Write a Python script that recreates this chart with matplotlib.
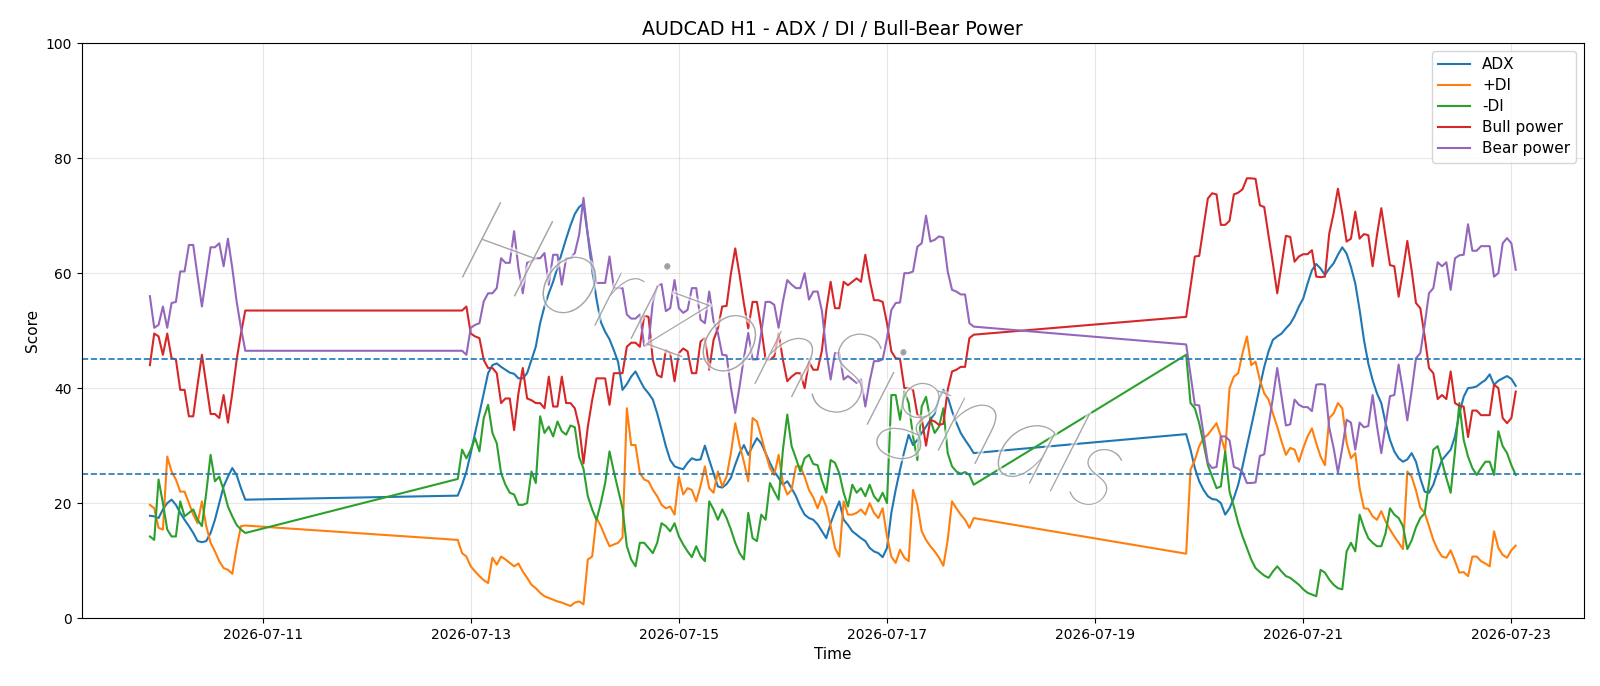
import numpy as np
import pandas as pd
import matplotlib
matplotlib.use("Agg")
import matplotlib.pyplot as plt
import matplotlib.dates as mdates
import matplotlib.patheffects as pe

# hourly bars, three trading blocks (weekend gaps are bridged by the line)
t_w1 = pd.date_range("2026-07-09 22:00", "2026-07-10 20:00", freq="h")
t_w2 = pd.date_range("2026-07-12 21:00", "2026-07-17 20:00", freq="h")
t_w3 = pd.date_range("2026-07-19 21:00", "2026-07-23 01:00", freq="h")

# ---- ADX
adx_w1 = [17.8, 17.7, 17.4, 18.9, 20.0, 20.6, 19.7, 18.3, 17.1, 16.0, 14.8, 13.4,
          13.2, 13.4, 14.8, 17.1, 20.0, 22.9, 24.6, 26.1, 24.9, 22.6, 20.6]
adx_w2 = [21.3, 23.2, 25.5, 28.7, 32.2, 35.6, 39.1, 42.6, 44.0, 44.3,
          43.7, 43.2, 42.7, 42.5, 41.7, 41.7, 42.6, 44.9, 47.2, 51.3,
          54.2, 56.5, 58.5, 61.0, 63.5, 66.0, 68.3, 70.3, 71.5, 72.1,
          66.5, 60.5, 55.5, 51.5, 49.8, 48.5, 46.6, 44.5, 39.7, 40.7,
          42.0, 42.9, 41.4, 40.0, 39.1, 38.0, 35.6, 32.8, 29.9, 27.5,
          26.4, 26.1, 25.9, 27.0, 27.8, 27.5, 27.6, 30.0, 27.5, 25.2,
          22.9, 22.7, 23.3, 24.4, 26.7, 28.7, 30.1, 28.4, 29.9, 31.3,
          30.4, 28.7, 27.0, 25.5, 24.4, 23.2, 23.8, 22.6, 21.2, 19.4,
          18.0, 17.4, 17.1, 16.3, 15.1, 13.9, 16.5, 18.5, 20.3, 17.1,
          16.2, 15.1, 14.5, 13.9, 13.4, 12.2, 11.6, 11.3, 10.6, 12.2,
          18.3, 22.3, 25.8, 29.0, 31.9, 30.1, 31.0, 32.2, 33.3, 34.5,
          35.6, 38.2, 39.7, 38.5, 36.0, 34.0, 32.2, 31.0, 29.9, 28.7]
adx_w3 = [32.0, 29.3, 26.1, 23.8, 22.3, 21.2, 20.7, 20.6, 20.0, 18.0,
          19.1, 20.9, 23.2, 26.4, 29.9, 33.3, 36.8, 40.3, 43.7, 46.4,
          48.4, 49.0, 49.5, 50.4, 51.2, 52.5, 54.2, 55.6, 58.2, 60.5,
          61.6, 60.8, 59.7, 60.8, 61.7, 63.2, 64.5, 63.4, 61.1, 58.2,
          53.6, 48.4, 44.3, 41.4, 39.1, 37.4, 33.9, 31.0, 29.0, 27.8,
          27.2, 27.6, 28.7, 27.2, 24.3, 22.0, 21.8, 23.2, 25.5, 27.5,
          28.4, 29.3, 31.6, 35.6, 38.5, 40.0, 40.1, 40.3, 40.9, 41.4,
          42.4, 40.6, 41.3, 41.7, 42.1, 41.6, 40.4]

# ---- +DI
pdi_w1 = [19.7, 19.1, 15.7, 15.4, 28.1, 25.5, 24.1, 22.0, 22.0, 20.0, 18.0, 16.5,
          20.3, 16.0, 13.1, 11.6, 9.9, 8.7, 8.4, 7.7, 12.2, 16.0, 16.1]
pdi_w2 = [13.6, 11.3, 10.7, 9.0, 8.1, 7.3, 6.6, 6.1, 10.5, 9.3,
          10.7, 10.2, 9.6, 9.0, 9.5, 8.1, 7.0, 5.8, 5.2, 4.4,
          3.8, 3.5, 3.2, 2.9, 2.7, 2.4, 2.1, 2.7, 2.9, 2.4,
          10.2, 10.7, 17.4, 16.0, 14.2, 12.5, 12.8, 13.1, 14.0, 36.5,
          30.1, 30.1, 25.2, 24.1, 23.8, 22.3, 21.2, 19.7, 19.1, 19.4,
          18.0, 24.6, 21.5, 22.6, 22.3, 20.3, 23.0, 26.4, 22.6, 21.8,
          25.5, 22.9, 24.6, 28.7, 33.9, 30.1, 27.2, 23.8, 34.8, 34.2,
          31.6, 28.7, 26.1, 24.9, 28.4, 23.5, 21.5, 22.3, 26.4, 26.4,
          24.6, 22.3, 21.0, 19.1, 21.2, 19.4, 16.0, 12.2, 10.7, 20.3,
          18.0, 18.0, 18.3, 18.9, 18.0, 20.0, 18.3, 17.4, 19.1, 14.2,
          10.7, 9.6, 11.9, 10.5, 9.9, 22.3, 19.7, 15.1, 13.6, 12.5,
          11.6, 10.5, 9.1, 13.6, 20.3, 19.1, 18.0, 17.1, 15.7, 17.4]
pdi_w3 = [11.2, 25.8, 27.5, 29.9, 31.3, 31.9, 32.9, 33.9, 31.6, 29.0,
          40.0, 42.0, 42.6, 46.1, 49.0, 44.0, 44.6, 41.4, 39.1, 38.0,
          35.6, 33.3, 30.7, 28.4, 29.6, 29.3, 27.2, 29.6, 31.6, 33.0,
          30.4, 28.1, 26.6, 34.8, 35.6, 37.4, 36.5, 30.5, 27.8, 28.7,
          22.6, 19.1, 19.0, 17.7, 17.1, 18.6, 16.8, 15.4, 14.2, 13.1,
          12.0, 25.5, 24.6, 22.2, 19.2, 18.3, 16.0, 13.6, 11.9, 10.7,
          10.5, 11.8, 9.9, 7.9, 8.0, 7.3, 10.7, 10.7, 9.9, 9.5,
          9.0, 15.1, 12.2, 11.0, 10.5, 11.8, 12.6]

# ---- -DI
mdi_w1 = [14.2, 13.6, 24.1, 20.0, 15.4, 14.2, 14.2, 20.3, 17.7, 18.3, 18.9, 17.1,
          16.0, 21.8, 28.4, 23.8, 24.6, 22.3, 19.4, 17.7, 16.2, 15.4, 14.8]
mdi_w2 = [24.2, 29.3, 27.8, 29.3, 31.3, 29.0, 34.8, 37.1, 32.2, 30.4,
          25.2, 23.2, 21.8, 21.5, 19.7, 19.7, 20.0, 25.5, 23.5, 35.1,
          32.2, 33.3, 31.6, 34.2, 32.5, 31.9, 33.5, 33.2, 28.0, 26.0,
          21.2, 18.9, 17.1, 20.0, 23.5, 29.0, 25.5, 22.3, 19.1, 12.5,
          10.2, 9.0, 13.1, 13.1, 12.2, 11.3, 13.1, 16.5, 16.0, 15.1,
          16.5, 14.2, 12.8, 11.6, 10.6, 12.5, 10.8, 9.9, 20.3, 18.9,
          17.1, 18.9, 17.4, 15.4, 13.1, 11.3, 10.2, 18.3, 13.9, 13.4,
          18.0, 17.1, 23.5, 22.0, 20.6, 29.3, 35.4, 29.9, 27.8, 25.5,
          27.8, 28.4, 26.8, 26.6, 23.9, 21.8, 27.5, 27.0, 25.2, 21.8,
          19.4, 23.2, 21.8, 22.6, 21.2, 23.2, 21.2, 20.3, 21.8, 20.0,
          38.8, 38.8, 34.5, 39.4, 37.4, 31.6, 27.5, 36.8, 38.5, 34.5,
          32.2, 33.3, 36.5, 28.7, 26.4, 25.5, 25.1, 25.4, 24.9, 23.2]
mdi_w3 = [45.8, 37.4, 36.5, 33.9, 30.4, 26.6, 24.6, 22.6, 22.9, 29.0,
          22.0, 19.4, 16.5, 14.2, 12.2, 10.2, 8.7, 8.0, 7.4, 7.0,
          8.1, 9.0, 8.1, 7.3, 7.0, 6.4, 5.8, 5.0, 4.4, 4.1,
          3.8, 8.4, 7.9, 6.7, 5.8, 5.2, 5.0, 11.6, 13.1, 11.6,
          18.0, 15.7, 13.9, 13.1, 12.5, 12.5, 14.8, 19.1, 18.0, 17.4,
          16.0, 12.0, 13.5, 15.8, 17.4, 18.2, 23.5, 29.3, 29.9, 27.2,
          24.4, 21.8, 29.0, 37.4, 31.0, 28.1, 26.1, 24.9, 26.1, 27.2,
          27.2, 24.9, 32.5, 29.9, 28.7, 26.6, 24.9]

# ---- Bull power
bull_w1 = [44.0, 49.5, 49.0, 45.8, 49.5, 45.2, 45.0, 39.7, 39.7, 35.1, 35.1, 40.6,
           45.8, 40.6, 35.5, 35.5, 34.8, 38.8, 34.0, 39.1, 44.9, 49.5, 53.5]
bull_w2 = [53.5, 53.5, 54.2, 49.5, 49.0, 48.7, 44.9, 43.5, 43.5, 42.6,
           37.4, 38.2, 38.2, 32.7, 39.1, 43.5, 38.2, 37.9, 37.4, 37.4,
           36.5, 42.0, 36.8, 36.8, 42.0, 37.4, 37.4, 36.5, 33.3, 26.9,
           33.3, 37.9, 41.7, 41.7, 41.7, 37.1, 42.6, 42.6, 42.6, 47.2,
           47.9, 47.9, 47.2, 52.6, 52.4, 44.9, 42.3, 41.9, 46.6, 46.1,
           41.2, 46.1, 46.9, 46.4, 42.6, 42.6, 48.1, 48.7, 43.2, 48.4,
           50.4, 54.2, 54.3, 59.9, 64.3, 59.7, 54.7, 50.4, 55.0, 55.0,
           50.4, 45.0, 45.0, 45.5, 49.5, 44.9, 41.2, 42.0, 42.6, 42.6,
           40.0, 44.6, 43.2, 43.2, 46.6, 53.6, 58.5, 53.9, 53.9, 58.5,
           57.9, 58.5, 59.1, 58.5, 63.2, 58.8, 55.3, 55.3, 55.0, 51.3,
           46.4, 45.2, 45.1, 40.0, 40.0, 39.7, 35.4, 34.8, 30.0, 34.5,
           34.2, 33.6, 33.8, 39.7, 42.9, 43.2, 43.7, 43.7, 48.7, 49.3]
bull_w3 = [52.4, 57.7, 62.9, 63.0, 68.0, 73.0, 73.9, 73.7, 68.4, 68.4,
           69.1, 73.7, 74.0, 74.6, 76.5, 76.5, 76.4, 71.8, 71.5, 66.5,
           61.7, 56.5, 61.5, 66.5, 66.3, 62.0, 62.9, 63.3, 63.3, 64.0,
           59.4, 59.3, 59.4, 66.9, 70.4, 74.7, 70.4, 65.5, 66.0, 70.7,
           66.0, 66.8, 66.6, 61.2, 66.6, 71.3, 66.3, 61.4, 61.2, 55.9,
           60.5, 65.6, 60.5, 54.8, 53.9, 49.0, 43.5, 42.6, 38.1, 38.8,
           38.1, 42.9, 37.4, 36.9, 36.8, 31.5, 36.1, 36.1, 35.3, 35.3,
           35.3, 40.6, 40.0, 34.8, 33.9, 34.8, 39.4]

# ---- Bear power
bear_w1 = [56.0, 50.5, 51.0, 54.2, 50.5, 54.8, 55.0, 60.3, 60.3, 64.9, 64.9, 59.4,
           54.2, 59.4, 64.5, 64.5, 65.2, 61.2, 66.0, 60.9, 55.1, 50.5, 46.5]
bear_w2 = [46.5, 46.5, 45.8, 50.5, 51.0, 51.3, 55.1, 56.5, 56.5, 57.4,
           62.6, 61.8, 61.8, 67.3, 60.9, 56.5, 61.8, 62.1, 62.6, 62.6,
           63.5, 58.0, 63.2, 63.2, 58.0, 62.6, 62.6, 63.5, 66.7, 73.1,
           66.7, 62.1, 58.3, 58.3, 58.3, 62.9, 57.4, 57.4, 57.4, 52.8,
           52.1, 52.1, 52.8, 47.4, 47.6, 55.1, 57.7, 58.1, 53.4, 53.9,
           58.8, 53.9, 53.1, 53.6, 57.4, 57.4, 51.9, 51.3, 56.8, 51.6,
           49.6, 45.8, 45.7, 40.1, 35.7, 40.3, 45.3, 49.6, 45.0, 45.0,
           49.6, 55.0, 55.0, 54.5, 50.5, 55.1, 58.8, 58.0, 57.4, 57.4,
           60.0, 55.4, 56.8, 56.8, 53.4, 46.4, 41.5, 46.1, 46.1, 41.5,
           42.1, 41.5, 40.9, 41.5, 36.8, 41.2, 44.7, 44.7, 45.0, 48.7,
           53.6, 54.8, 54.9, 60.0, 60.0, 60.3, 64.6, 65.2, 70.0, 65.5,
           65.8, 66.4, 66.2, 60.3, 57.1, 56.8, 56.3, 56.3, 51.3, 50.7]
bear_w3 = [47.6, 42.3, 37.1, 37.0, 32.0, 27.0, 26.1, 26.3, 31.6, 31.6,
           30.9, 26.3, 26.0, 25.4, 23.5, 23.5, 23.6, 28.2, 28.5, 33.5,
           38.3, 43.5, 38.5, 33.5, 33.7, 38.0, 37.1, 36.7, 36.7, 36.0,
           40.6, 40.7, 40.6, 33.1, 29.6, 25.3, 29.6, 34.5, 34.0, 29.3,
           34.0, 33.2, 33.4, 38.8, 33.4, 28.7, 33.7, 38.6, 38.8, 44.1,
           39.5, 34.4, 39.5, 45.2, 46.1, 51.0, 56.5, 57.4, 61.9, 61.2,
           61.9, 57.1, 62.6, 63.1, 63.2, 68.5, 63.9, 63.9, 64.7, 64.7,
           64.7, 59.4, 60.0, 65.2, 66.1, 65.2, 60.6]

times = t_w1.append(t_w2).append(t_w3)
series = [
    ("ADX", adx_w1 + adx_w2 + adx_w3),
    ("+DI", pdi_w1 + pdi_w2 + pdi_w3),
    ("-DI", mdi_w1 + mdi_w2 + mdi_w3),
    ("Bull power", bull_w1 + bull_w2 + bull_w3),
    ("Bear power", bear_w1 + bear_w2 + bear_w3),
]

fig, ax = plt.subplots(figsize=(16, 6.86), dpi=100)
fig.subplots_adjust(left=0.051, right=0.99, top=0.937, bottom=0.099)

for name, vals in series:
    ax.plot(times, vals, label=name, linewidth=1.5)

ax.axhline(45, color="C0", linestyle="--", linewidth=1.2)
ax.axhline(25, color="C0", linestyle="--", linewidth=1.2)

ax.set_ylim(0, 100)
ax.set_title("AUDCAD H1 - ADX / DI / Bull-Bear Power", fontsize=13.7)
ax.set_xlabel("Time", fontsize=11)
ax.set_ylabel("Score", fontsize=11)
ax.grid(True, alpha=0.3)
ax.legend(loc="upper right", fontsize=11, labelspacing=0.4, handlelength=2.1)
ax.xaxis.set_major_locator(mdates.DayLocator(bymonthday=range(1, 32, 2)))
ax.xaxis.set_major_formatter(mdates.DateFormatter("%Y-%m-%d"))

# watermark
fig.text(0.495, 0.47, "HorizonSignals", fontsize=86, rotation=-20,
         ha="center", va="center", color="#7f7f7f", alpha=0.6,
         family=["Lato", "DejaVu Sans"], fontweight="light", fontstyle="italic",
         path_effects=[pe.withStroke(linewidth=3, foreground="white")])

fig.savefig("out.png", dpi=100)
